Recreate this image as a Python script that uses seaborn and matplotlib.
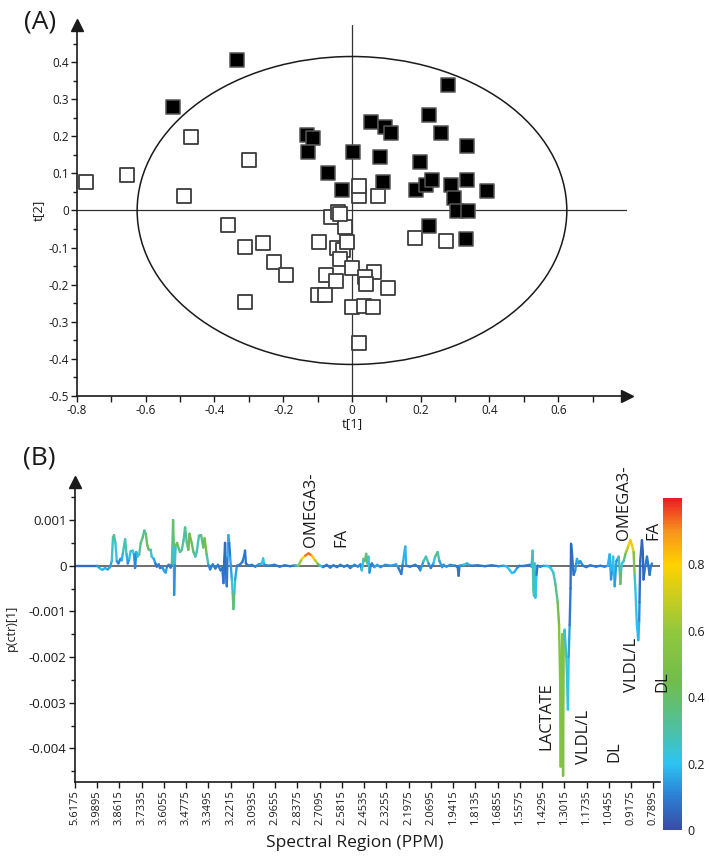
import numpy as np
import pandas as pd
import matplotlib
matplotlib.use("Agg")
import matplotlib.pyplot as plt
import seaborn as sns
from matplotlib.collections import LineCollection
from matplotlib.colors import LinearSegmentedColormap, Normalize
from matplotlib.cm import ScalarMappable
from matplotlib.patches import Ellipse

# ---------------- panel A: OPLS-DA scores ----------------
case_t1 = [-0.522, -0.335, -0.132, -0.112, -0.129, -0.070, -0.029, 0.003, 0.055, 0.095,
           0.114, 0.082, 0.089, 0.225, 0.258, 0.280, 0.334, 0.197, 0.187, 0.215,
           0.232, 0.287, 0.334, 0.394, 0.296, 0.305, 0.337, 0.223, 0.331]
case_t2 = [0.279, 0.406, 0.203, 0.195, 0.157, 0.101, 0.056, 0.158, 0.239, 0.224,
           0.208, 0.145, 0.077, 0.257, 0.208, 0.338, 0.174, 0.130, 0.055, 0.069,
           0.083, 0.069, 0.083, 0.053, 0.033, -0.002, -0.002, -0.042, -0.076]

ctrl_t1 = [-0.775, -0.654, -0.469, -0.301, -0.488, -0.361, -0.310, -0.259, -0.226, -0.192,
           -0.310, -0.096, -0.061, -0.041, -0.020, -0.044, -0.026, -0.015, -0.034, 0.000,
           -0.076, -0.046, -0.100, -0.078, 0.000, 0.020, 0.021, 0.020, 0.076, 0.182,
           0.273, 0.064, 0.039, 0.041, 0.105, 0.034, 0.060, -0.035]
ctrl_t2 = [0.078, 0.096, 0.199, 0.136, 0.038, -0.038, -0.098, -0.088, -0.139, -0.175,
           -0.248, -0.085, -0.018, -0.005, -0.045, -0.101, -0.107, -0.085, -0.130, -0.154,
           -0.173, -0.190, -0.228, -0.228, -0.261, -0.356, 0.038, 0.067, 0.038, -0.073,
           -0.082, -0.166, -0.179, -0.197, -0.210, -0.258, -0.260, -0.010]

ellipse_rx, ellipse_ry = 0.625, 0.415
a_xticks = [-0.8, -0.6, -0.4, -0.2, 0.0, 0.2, 0.4, 0.6]
a_xticklabels = ["-0.8", "-0.6", "-0.4", "-0.2", "0", "0.2", "0.4", "0.6"]
a_yticks = [-0.5, -0.4, -0.3, -0.2, -0.1, 0.0, 0.1, 0.2, 0.3, 0.4]
a_yticklabels = ["-0.5", "-0.4", "-0.3", "-0.2", "-0.1", "0", "0.1", "0.2", "0.3", "0.4"]

# ---------------- panel B: loadings spectrum ----------------
tick_ppm = [5.6175, 3.9895, 3.8615, 3.7335, 3.6055, 3.4775, 3.3495, 3.2215, 3.0935,
            2.9655, 2.8375, 2.7095, 2.5815, 2.4535, 2.3255, 2.1975, 2.0695, 1.9415,
            1.8135, 1.6855, 1.5575, 1.4295, 1.3015, 1.1735, 1.0455, 0.9175, 0.7895]

spec_ppm = [5.6175, 3.991, 3.974, 3.960, 3.945, 3.930, 3.916, 3.906, 3.899, 3.893,
            3.885, 3.877, 3.868, 3.856, 3.849, 3.841, 3.829, 3.821, 3.814, 3.806,
            3.797, 3.786, 3.778, 3.772, 3.765, 3.758, 3.748, 3.739, 3.728, 3.719,
            3.710, 3.702, 3.693, 3.682, 3.676, 3.664, 3.655, 3.647, 3.636, 3.628,
            3.615, 3.604, 3.596, 3.588, 3.578, 3.567, 3.560, 3.553, 3.549, 3.547,
            3.543, 3.538, 3.530, 3.523, 3.513, 3.503, 3.493, 3.484, 3.474, 3.465,
            3.459, 3.446, 3.436, 3.425, 3.417, 3.404, 3.392, 3.379, 3.372, 3.360,
            3.350, 3.340, 3.325, 3.310, 3.295, 3.280, 3.270, 3.263, 3.259, 3.254,
            3.249, 3.244, 3.240, 3.235, 3.230, 3.225, 3.215, 3.210, 3.206, 3.201,
            3.196, 3.186, 3.170, 3.155, 3.145, 3.139, 3.134, 3.120, 3.100, 3.080,
            3.060, 3.042, 3.035, 3.028, 3.000, 2.970, 2.940, 2.910, 2.880, 2.850,
            2.832, 2.812, 2.793, 2.774, 2.755, 2.736, 2.720, 2.707, 2.690, 2.670,
            2.649, 2.630, 2.610, 2.591, 2.570, 2.550, 2.534, 2.510, 2.490, 2.475,
            2.467, 2.457, 2.449, 2.442, 2.435, 2.429, 2.423, 2.415, 2.409, 2.395,
            2.379, 2.360, 2.332, 2.300, 2.270, 2.256, 2.240, 2.231, 2.217, 2.212,
            2.190, 2.160, 2.140, 2.131, 2.112, 2.098, 2.083, 2.070, 2.055, 2.045,
            2.031, 2.020, 2.005, 1.997, 1.980, 1.958, 1.930, 1.915, 1.910, 1.905,
            1.880, 1.862, 1.840, 1.800, 1.760, 1.720, 1.680, 1.650, 1.632, 1.615,
            1.603, 1.590, 1.574, 1.560, 1.530, 1.500, 1.490, 1.484, 1.480, 1.476,
            1.472, 1.468, 1.462, 1.456, 1.440, 1.420, 1.401, 1.380, 1.365, 1.353,
            1.340, 1.332, 1.326, 1.323, 1.319, 1.313, 1.309, 1.305, 1.300, 1.290,
            1.281, 1.277, 1.271, 1.266, 1.263, 1.258, 1.253, 1.248, 1.239, 1.229,
            1.219, 1.210, 1.195, 1.175, 1.152, 1.120, 1.094, 1.070, 1.052, 1.041,
            1.033, 1.027, 1.021, 1.012, 1.002, 0.995, 0.989, 0.983, 0.979, 0.975,
            0.970, 0.960, 0.951, 0.941, 0.932, 0.922, 0.912, 0.903, 0.897, 0.893,
            0.884, 0.876, 0.871, 0.869, 0.865, 0.855, 0.850, 0.846, 0.840, 0.826,
            0.818, 0.811, 0.803, 0.797]

# p(ctr)[1] in units of 1e-3
spec_p = [0.00, 0.00, -0.06, -0.09, -0.05, -0.08, -0.03, 0.10, 0.62, 0.67,
          0.50, 0.10, 0.05, 0.15, 0.12, 0.30, 0.58, 0.25, 0.05, 0.15,
          0.32, 0.33, 0.25, -0.05, 0.30, 0.20, 0.25, 0.50, 0.62, 0.77,
          0.70, 0.45, 0.35, 0.35, 0.20, 0.15, 0.05, -0.02, 0.03, -0.05,
          -0.03, -0.12, -0.15, -0.02, 0.02, -0.04, 0.05, 1.00, 0.40, -0.64,
          0.05, 0.45, 0.50, 0.40, 0.30, 0.35, 0.55, 0.84, 0.50, 0.35,
          0.70, 0.50, 0.30, 0.20, 0.30, 0.66, 0.67, 0.40, 0.60, 0.25,
          0.02, -0.08, 0.03, -0.06, 0.02, -0.10, -0.05, -0.38, 0.10, 0.50,
          -0.20, -0.45, 0.20, 0.67, 0.50, 0.20, -0.30, -0.60, -0.95, -0.60,
          -0.30, 0.00, 0.02, 0.08, 0.20, 0.33, 0.05, 0.00, 0.02, -0.02,
          0.03, 0.05, 0.16, 0.02, 0.00, 0.02, -0.02, 0.01, -0.01, 0.01,
          0.00, 0.15, 0.22, 0.27, 0.22, 0.12, 0.04, 0.00, -0.03, 0.02,
          -0.04, 0.01, -0.03, 0.02, -0.02, 0.01, -0.05, 0.02, -0.02, 0.03,
          -0.10, 0.15, 0.10, 0.26, 0.05, 0.20, -0.15, 0.02, 0.05, -0.03,
          0.02, -0.03, 0.02, 0.00, 0.03, -0.05, -0.18, 0.05, 0.42, 0.00,
          -0.02, 0.02, -0.03, -0.10, 0.10, 0.20, 0.05, -0.05, 0.05, 0.20,
          0.30, 0.10, -0.03, 0.02, -0.02, 0.02, 0.00, -0.03, -0.22, 0.00,
          0.02, 0.05, 0.00, 0.01, -0.01, 0.01, -0.01, 0.00, -0.02, -0.10,
          -0.16, -0.14, -0.05, 0.00, 0.00, 0.02, -0.02, 0.33, -0.50, -0.66,
          0.05, -0.70, -0.20, 0.00, -0.02, 0.00, 0.00, -0.05, -0.15, -0.40,
          -0.80, -1.30, -2.50, -4.40, -2.00, -1.50, -4.60, -1.50, -1.40, -2.00,
          -3.15, -2.00, -1.30, -0.50, 0.48, 0.30, 0.00, -0.20, -0.10, 0.15,
          0.05, 0.10, 0.00, -0.03, 0.01, -0.02, 0.00, -0.02, 0.00, 0.25,
          -0.30, -0.10, 0.20, -0.45, 0.10, 0.15, 0.20, -0.10, -0.40, -0.10,
          0.05, 0.10, 0.25, 0.35, 0.45, 0.56, 0.45, 0.30, -0.20, -0.50,
          -1.30, -1.63, -1.20, -0.80, 0.10, 0.56, 0.30, -0.30, -0.10, 0.20,
          0.00, -0.20, 0.00, 0.05]

# correlation (colour scale)
spec_corr = [0.05, 0.08, 0.20, 0.22, 0.15, 0.20, 0.10, 0.20, 0.30, 0.35,
             0.30, 0.15, 0.10, 0.12, 0.10, 0.25, 0.30, 0.25, 0.10, 0.15,
             0.25, 0.25, 0.20, 0.08, 0.15, 0.20, 0.25, 0.40, 0.35, 0.30,
             0.35, 0.45, 0.40, 0.30, 0.25, 0.20, 0.10, 0.08, 0.10, 0.10,
             0.10, 0.15, 0.20, 0.10, 0.08, 0.10, 0.10, 0.50, 0.30, 0.15,
             0.10, 0.40, 0.45, 0.40, 0.35, 0.30, 0.30, 0.30, 0.35, 0.40,
             0.45, 0.45, 0.35, 0.30, 0.25, 0.30, 0.30, 0.40, 0.45, 0.45,
             0.15, 0.10, 0.10, 0.10, 0.08, 0.10, 0.08, 0.08, 0.08, 0.05,
             0.08, 0.08, 0.10, 0.25, 0.08, 0.10, 0.20, 0.30, 0.45, 0.30,
             0.20, 0.10, 0.08, 0.10, 0.08, 0.08, 0.08, 0.08, 0.10, 0.10,
             0.12, 0.20, 0.25, 0.15, 0.08, 0.10, 0.08, 0.10, 0.08, 0.10,
             0.45, 0.70, 0.88, 0.97, 0.90, 0.75, 0.55, 0.30, 0.10, 0.08,
             0.10, 0.10, 0.08, 0.10, 0.10, 0.08, 0.10, 0.12, 0.10, 0.15,
             0.08, 0.40, 0.35, 0.45, 0.30, 0.30, 0.15, 0.10, 0.10, 0.12,
             0.20, 0.10, 0.15, 0.10, 0.20, 0.10, 0.08, 0.10, 0.25, 0.10,
             0.08, 0.10, 0.08, 0.08, 0.20, 0.40, 0.15, 0.10, 0.10, 0.30,
             0.40, 0.20, 0.10, 0.15, 0.10, 0.15, 0.10, 0.08, 0.08, 0.08,
             0.20, 0.25, 0.10, 0.08, 0.10, 0.08, 0.10, 0.15, 0.20, 0.20,
             0.20, 0.20, 0.15, 0.10, 0.08, 0.10, 0.10, 0.25, 0.30, 0.40,
             0.20, 0.30, 0.10, 0.08, 0.10, 0.12, 0.20, 0.22, 0.25, 0.30,
             0.40, 0.50, 0.55, 0.55, 0.50, 0.50, 0.55, 0.45, 0.25, 0.25,
             0.22, 0.20, 0.10, 0.08, 0.05, 0.06, 0.08, 0.08, 0.08, 0.20,
             0.15, 0.15, 0.10, 0.08, 0.10, 0.10, 0.08, 0.10, 0.12, 0.25,
             0.10, 0.15, 0.20, 0.20, 0.10, 0.15, 0.20, 0.35, 0.45, 0.35,
             0.20, 0.20, 0.50, 0.60, 0.75, 0.85, 0.80, 0.70, 0.30, 0.22,
             0.20, 0.20, 0.15, 0.08, 0.05, 0.05, 0.05, 0.05, 0.08, 0.10,
             0.08, 0.08, 0.10, 0.10]

# metabolite labels: text, ppm, p (1e-3) at the foot of the label
label_text = ["OMEGA3-", "FA", "OMEGA3-", "FA", "LACTATE", "VLDL/L", "DL", "VLDL/L", "DL"]
label_ppm = [2.757, 2.583, 0.959, 0.792, 1.403, 1.190, 1.011, 0.913, 0.740]
label_p = [0.41, 0.41, 0.56, 0.56, -4.03, -4.35, -4.30, -2.76, -2.76]

b_yticks = [-0.004, -0.003, -0.002, -0.001, 0.0, 0.001]
b_yticklabels = ["-0.004", "-0.003", "-0.002", "-0.001", "0", "0.001"]

cbar_colors = ["#3a4ca4", "#2b7fd4", "#2cc4f2", "#4dc1a4", "#72bd4a", "#92c83e",
               "#ffd200", "#f7941d", "#ed1c24"]
cbar_stops = [0.0, 0.1, 0.2, 0.3, 0.45, 0.6, 0.8, 0.9, 1.0]


def ppm_to_pos(ppm):
    ppm = np.asarray(ppm, dtype=float)
    tp = np.array(tick_ppm)
    pos = np.interp(-ppm, -tp, np.arange(len(tp)))
    # beyond the last tick keep the same step
    below = ppm < tp[-1]
    pos = np.where(below, len(tp) - 1 + (tp[-1] - ppm) / 0.128, pos)
    return pos


sns.set_theme(style="ticks")
plt.rcParams["font.family"] = ["Open Sans", "DejaVu Sans"]
plt.rcParams["axes.unicode_minus"] = False

fig = plt.figure(figsize=(7.09, 8.61), dpi=100)
ink = "#1a1a1a"

# ---------- panel A ----------
axA = fig.add_axes([0.1086, 0.5401, 0.7757, 0.4309])
scores = pd.concat([
    pd.DataFrame({"t1": ctrl_t1, "t2": ctrl_t2, "group": "control"}),
    pd.DataFrame({"t1": case_t1, "t2": case_t2, "group": "case"}),
])
sns.scatterplot(data=scores[scores.group == "control"], x="t1", y="t2", ax=axA,
                marker="s", s=95, color="white", edgecolor="#3c3c3c", linewidth=1.3,
                zorder=3, legend=False)
sns.scatterplot(data=scores[scores.group == "case"], x="t1", y="t2", ax=axA,
                marker="s", s=95, color="black", edgecolor="#555555", linewidth=1.1,
                zorder=4, legend=False)
axA.add_patch(Ellipse((0, 0), 2 * ellipse_rx, 2 * ellipse_ry, fill=False,
                      ec=ink, lw=1.1, zorder=2))
axA.axhline(0, color="#333333", lw=0.9, zorder=1)
axA.axvline(0, color="#333333", lw=0.9, zorder=1)
axA.set_xlim(-0.8, 0.8)
axA.set_ylim(-0.5, 0.5)
axA.set_xticks(a_xticks)
axA.set_xticklabels(a_xticklabels)
axA.set_xticks(np.arange(-0.7, 0.8, 0.2), minor=True)
axA.set_yticks(a_yticks)
axA.set_yticklabels(a_yticklabels)
axA.set_yticks(np.arange(-0.45, 0.5, 0.1), minor=True)
axA.tick_params(which="both", direction="out", color=ink, width=1.0,
                labelsize=8.5, labelcolor=ink, pad=2)
axA.tick_params(axis="x", which="both", length=4)
axA.tick_params(axis="y", which="major", length=4)
axA.tick_params(axis="y", which="minor", length=3)
axA.set_xlabel("")
axA.set_ylabel("")
for side in ["top", "right"]:
    axA.spines[side].set_visible(False)
for side in ["left", "bottom"]:
    axA.spines[side].set_color(ink)
    axA.spines[side].set_linewidth(1.2)
axA.plot(0, 1, marker="^", ms=8, color=ink, transform=axA.transAxes, clip_on=False)
axA.plot(1, 0, marker=">", ms=8, color=ink, transform=axA.transAxes, clip_on=False)

fig.text(40 / 709, 1 - 22 / 861, "(A)", fontsize=19, ha="center", va="center", color=ink)
fig.text(352 / 709, 1 - 424 / 861, "t[1]", fontsize=9.5, ha="center", va="center", color=ink)
fig.text(38 / 709, 1 - 210 / 861, "t[2]", fontsize=9.5, ha="center", va="center",
         rotation=90, color=ink)

# ---------- panel B ----------
axB = fig.add_axes([0.1058, 0.0921, 0.8251, 0.3484])
axB.set_zorder(3)
axB.patch.set_visible(False)
cmap = LinearSegmentedColormap.from_list("corr", list(zip(cbar_stops, cbar_colors)))
norm = Normalize(0, 1)

pos = ppm_to_pos(spec_ppm)
vals = np.array(spec_p) * 1e-3
corr = np.array(spec_corr)
pts = np.column_stack([pos, vals])
segs = np.stack([pts[:-1], pts[1:]], axis=1)
seg_c = (corr[:-1] + corr[1:]) / 2
axB.axhline(0, color="#6e6e6e", lw=1.4, zorder=1)
lc = LineCollection(segs, colors=cmap(norm(seg_c)), linewidths=1.7,
                    capstyle="round", joinstyle="round", zorder=2)
axB.add_collection(lc)

axB.set_xlim(0, 26.3)
axB.set_ylim(-0.00473, 0.00184)
axB.set_xticks(np.arange(len(tick_ppm)))
axB.set_xticklabels([f"{v:.4f}" for v in tick_ppm], rotation=90)
axB.set_yticks(b_yticks)
axB.set_yticklabels(b_yticklabels)
axB.set_yticks(np.arange(-0.0045, 0.0016, 0.001), minor=True)
axB.tick_params(which="both", direction="out", color=ink, width=1.0,
                labelsize=8, labelcolor=ink, pad=2)
axB.tick_params(axis="y", labelsize=9.5)
axB.tick_params(axis="x", which="major", length=4)
axB.tick_params(axis="y", which="major", length=4)
axB.tick_params(axis="y", which="minor", length=3)
for side in ["top", "right"]:
    axB.spines[side].set_visible(False)
for side in ["left", "bottom"]:
    axB.spines[side].set_color(ink)
    axB.spines[side].set_linewidth(1.2)
axB.plot(0, 1, marker="^", ms=8, color=ink, transform=axB.transAxes, clip_on=False)

for txt, pp, pv in zip(label_text, label_ppm, label_p):
    axB.text(ppm_to_pos(pp), pv * 1e-3, txt, rotation=90, ha="center", va="bottom",
             fontsize=12, color=ink, clip_on=False)

fig.text(39 / 709, 1 - 458 / 861, "(B)", fontsize=19, ha="center", va="center", color=ink)
fig.text(11 / 709, 1 - 628 / 861, "p(ctr)[1]", fontsize=9, ha="center", va="center",
         rotation=90, color=ink)
fig.text(355 / 709, 1 - 843 / 861, "Spectral Region (PPM)", fontsize=12.5,
         ha="center", va="center", color=ink)

cax = fig.add_axes([663 / 709, 1 - 830 / 861, 19 / 709, 332 / 861])
cb = fig.colorbar(ScalarMappable(norm=norm, cmap=cmap), cax=cax)
cb.set_ticks([0, 0.2, 0.4, 0.6, 0.8])
cb.set_ticklabels(["0", "0.2", "0.4", "0.6", "0.8"])
cb.outline.set_visible(False)
cax.tick_params(length=0, labelsize=9, pad=4, labelcolor=ink)

fig.savefig("out.png", dpi=100)
